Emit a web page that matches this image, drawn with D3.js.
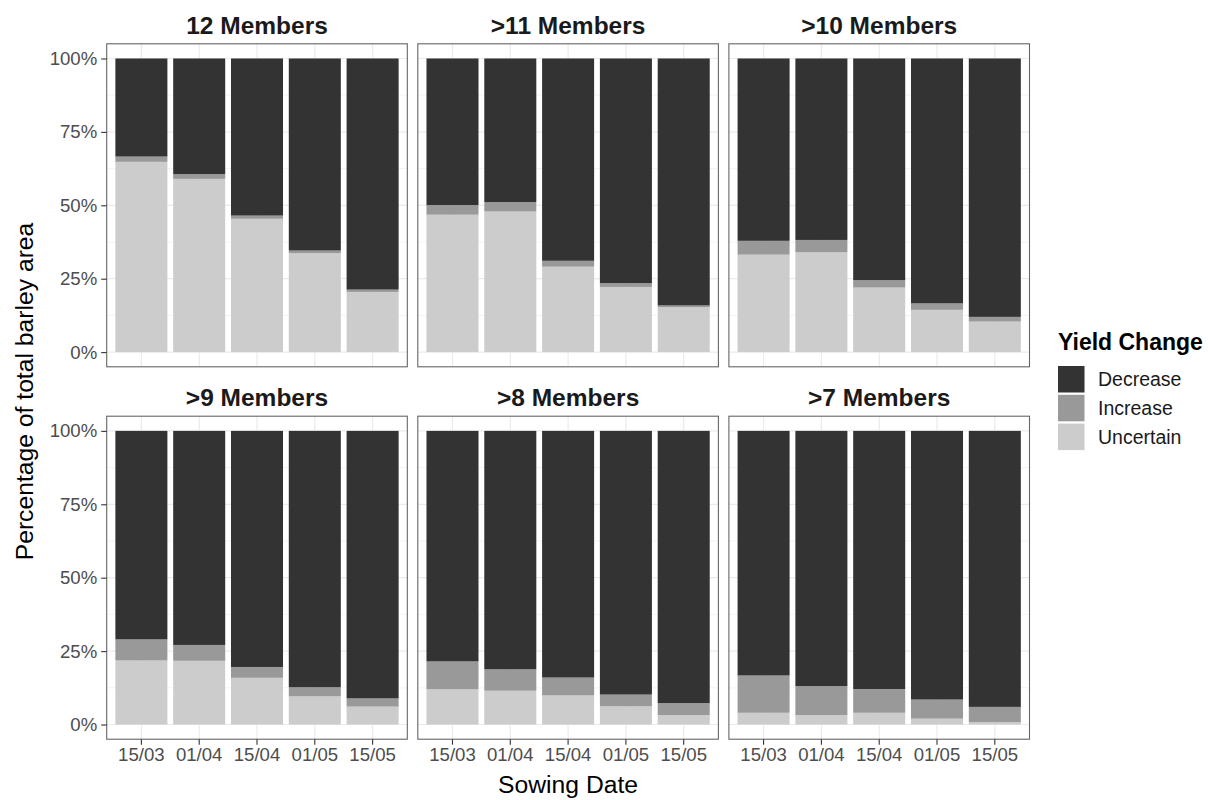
<!DOCTYPE html>
<html>
<head>
<meta charset="utf-8">
<script src="https://cdn.jsdelivr.net/npm/d3@7"></script>
<style>
  html, body { margin: 0; padding: 0; background: #fff; }
  svg { display: block; font-family: "Liberation Sans", Arial, sans-serif; }
</style>
</head>
<body>
<svg id="chart" width="1208" height="800"></svg>
<script>
// Sowing dates (x categories) and ensemble agreement facets
const sowingDates = ["15/03", "01/04", "15/04", "01/05", "15/05"];
const panels = ["12 Members", ">11 Members", ">10 Members", ">9 Members", ">8 Members", ">7 Members"];
const categories = ["Decrease", "Increase", "Uncertain"];
const yTicks = [0, 25, 50, 75, 100];
const yMinor = [12.5, 37.5, 62.5, 87.5];

// Percentage of barley area per panel, one row per facet, one entry per sowing date
const uncertain = [
  [64.8, 59.0, 45.4, 33.7, 20.5],
  [46.8, 47.9, 29.1, 22.2, 15.3],
  [33.2, 34.0, 22.0, 14.4, 10.4],
  [21.8, 21.7, 15.9, 9.6, 6.1],
  [12.0, 11.5, 9.9, 6.2, 3.2],
  [4.0, 3.2, 4.0, 2.0, 0.8]
];
const increase = [
  [1.8, 1.6, 1.1, 0.9, 0.8],
  [3.3, 3.2, 2.0, 1.3, 0.6],
  [4.7, 4.2, 2.5, 2.2, 1.6],
  [7.2, 5.4, 3.7, 3.1, 2.8],
  [9.5, 7.3, 6.1, 4.0, 4.1],
  [12.7, 9.9, 8.1, 6.5, 5.2]
];
const decrease = [
  [33.4, 39.4, 53.5, 65.4, 78.7],
  [49.9, 48.9, 68.9, 76.5, 84.1],
  [62.1, 61.8, 75.5, 83.4, 88.0],
  [71.0, 72.9, 80.4, 87.3, 91.1],
  [78.5, 81.2, 84.0, 89.8, 92.7],
  [83.3, 86.9, 87.9, 91.5, 94.0]
];

const fills = { Decrease: "#333333", Increase: "#999999", Uncertain: "#CCCCCC" };

// Layout of the 3 x 2 facet grid
const panelW = 300.6, panelH = 323, colGap = 10.5;
const left0 = 106.7;
const rowTops = [43.8, 416.2];

const svg = d3.select("#chart");

const x = d3.scaleBand().domain(sowingDates).range([0, panelW])
  .paddingInner(0.1).paddingOuter(0.15);
const y = d3.scaleLinear().domain([-5, 105]).range([panelH, 0]);

// Bottom-to-top stacking order: Uncertain, Increase, Decrease
const stackKeys = ["Uncertain", "Increase", "Decrease"];
const stack = d3.stack().keys(stackKeys);

panels.forEach((title, p) => {
  const col = p % 3, row = Math.floor(p / 3);
  const gx = left0 + col * (panelW + colGap);
  const gy = rowTops[row];
  const g = svg.append("g").attr("transform", `translate(${gx},${gy})`);

  // panel background and grid
  g.append("rect").attr("width", panelW).attr("height", panelH).attr("fill", "#fff");
  g.selectAll(".minor").data(yMinor).join("line")
    .attr("x1", 0).attr("x2", panelW)
    .attr("y1", d => y(d)).attr("y2", d => y(d))
    .attr("stroke", "#EBEBEB").attr("stroke-width", 0.6);
  g.selectAll(".major").data(yTicks).join("line")
    .attr("x1", 0).attr("x2", panelW)
    .attr("y1", d => y(d)).attr("y2", d => y(d))
    .attr("stroke", "#EBEBEB").attr("stroke-width", 1.2);
  g.selectAll(".vmajor").data(sowingDates).join("line")
    .attr("x1", d => x(d) + x.bandwidth() / 2).attr("x2", d => x(d) + x.bandwidth() / 2)
    .attr("y1", 0).attr("y2", panelH)
    .attr("stroke", "#EBEBEB").attr("stroke-width", 1.2);

  // stacked bars
  const rows = sowingDates.map((d, i) => ({
    date: d,
    Uncertain: uncertain[p][i],
    Increase: increase[p][i],
    Decrease: decrease[p][i]
  }));
  const series = stack(rows);
  g.selectAll(".layer").data(series).join("g")
    .attr("fill", s => fills[s.key])
    .selectAll("rect").data(s => s).join("rect")
    .attr("x", d => x(d.data.date))
    .attr("width", x.bandwidth())
    .attr("y", d => y(d[1]))
    .attr("height", d => y(d[0]) - y(d[1]));

  // panel border
  g.append("rect").attr("width", panelW).attr("height", panelH)
    .attr("fill", "none").attr("stroke", "#666666").attr("stroke-width", 1.1);

  // facet strip title
  g.append("text")
    .attr("x", panelW / 2).attr("y", -9.8)
    .attr("text-anchor", "middle")
    .attr("font-size", 24.5).attr("font-weight", "bold").attr("fill", "#1A1A1A")
    .text(title);

  // y axis on left column
  if (col === 0) {
    const ya = g.append("g").call(
      d3.axisLeft(y).tickValues(yTicks).tickFormat(d => d + "%").tickSizeOuter(0).tickSize(5.5).tickPadding(4)
    );
    ya.select(".domain").remove();
    ya.selectAll(".tick line").attr("stroke", "#333333").attr("stroke-width", 1.1);
    ya.selectAll(".tick text").attr("font-size", 18.6).attr("fill", "#4D4D4D")
      .attr("font-family", "'Liberation Sans', Arial, sans-serif");
  }
  // x axis on bottom row
  if (row === 1) {
    const xa = g.append("g").attr("transform", `translate(0,${panelH})`).call(
      d3.axisBottom(x).tickSizeOuter(0).tickSize(5.5).tickPadding(3)
    );
    xa.select(".domain").remove();
    xa.selectAll(".tick line").attr("stroke", "#333333").attr("stroke-width", 1.1);
    xa.selectAll(".tick text").attr("font-size", 18.6).attr("fill", "#4D4D4D")
      .attr("font-family", "'Liberation Sans', Arial, sans-serif");
  }
});

// axis titles
const gridMidX = left0 + (3 * panelW + 2 * colGap) / 2;
svg.append("text")
  .attr("x", gridMidX).attr("y", 793)
  .attr("text-anchor", "middle").attr("font-size", 24.7).attr("fill", "#000")
  .text("Sowing Date");
svg.append("text")
  .attr("transform", `translate(33,${(rowTops[0] + rowTops[1] + panelH) / 2}) rotate(-90)`)
  .attr("text-anchor", "middle").attr("font-size", 24.7).attr("fill", "#000")
  .text("Percentage of total barley area");

// legend
const lg = svg.append("g").attr("transform", "translate(1058,0)");
lg.append("text").attr("x", 0).attr("y", 350)
  .attr("font-size", 23).attr("font-weight", "bold").attr("fill", "#000")
  .text("Yield Change");
const keyTop = 366, keyStep = 28.8, keySize = 26.5;
categories.forEach((c, i) => {
  lg.append("rect")
    .attr("x", 0).attr("y", keyTop + i * keyStep)
    .attr("width", keySize).attr("height", keySize)
    .attr("fill", fills[c]);
  lg.append("text")
    .attr("x", 40).attr("y", keyTop + i * keyStep + keySize / 2 + 7)
    .attr("font-size", 19.5).attr("fill", "#1A1A1A")
    .text(c);
});
</script>
</body>
</html>
